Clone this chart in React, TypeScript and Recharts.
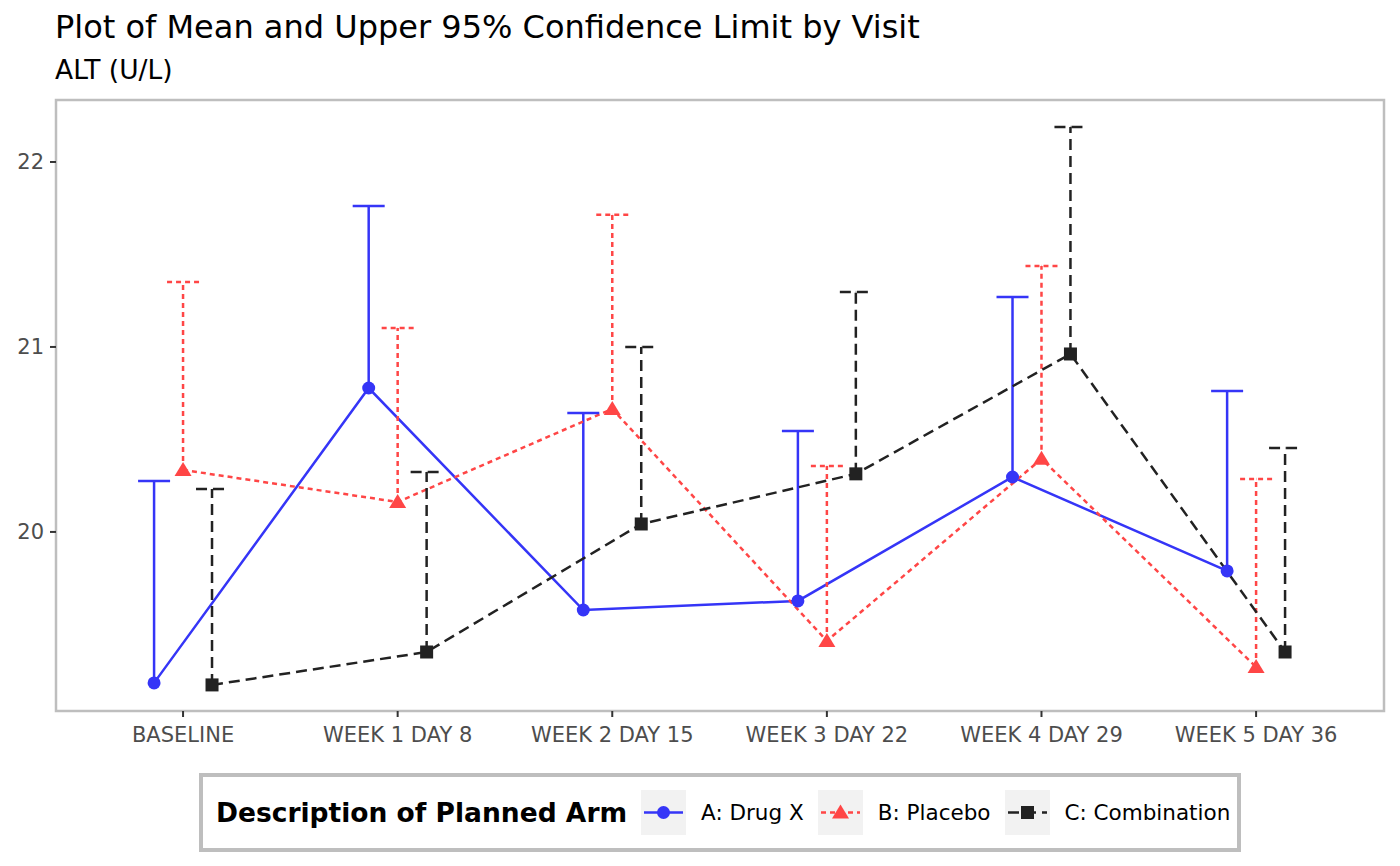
import React from "react";
import { LineChart, Line, XAxis, YAxis, ErrorBar, ReferenceArea } from "recharts";

const visits = [
  "BASELINE",
  "WEEK 1 DAY 8",
  "WEEK 2 DAY 15",
  "WEEK 3 DAY 22",
  "WEEK 4 DAY 29",
  "WEEK 5 DAY 36",
];

// mean and upper 95% CL per arm
const drugXMean = [19.184, 20.778, 19.578, 19.627, 20.297, 19.789];
const drugXUpper = [20.276, 21.762, 20.643, 20.546, 21.27, 20.762];
const placeboMean = [20.335, 20.162, 20.665, 19.411, 20.395, 19.27];
const placeboUpper = [21.351, 21.103, 21.714, 20.357, 21.438, 20.286];
const comboMean = [19.173, 19.351, 20.043, 20.314, 20.962, 19.351];
const comboUpper = [20.232, 20.324, 21.0, 21.297, 22.189, 20.454];

const yTicks = [20, 21, 22];

const X_DOMAIN: [number, number] = [-0.592, 5.596];
const Y_DOMAIN: [number, number] = [19.032, 22.335];
const DODGE = 0.135;
const FONT = "'DejaVu Sans', Verdana, sans-serif";
const LW = 2.5;

type Arm = {
  name: string;
  color: string;
  dash?: string;
  shape: "circle" | "triangle" | "square";
  offset: number;
  mean: number[];
  upper: number[];
};

const arms: Arm[] = [
  { name: "A: Drug X", color: "#3535f7", shape: "circle", offset: -DODGE, mean: drugXMean, upper: drugXUpper },
  { name: "B: Placebo", color: "#ff4646", dash: "5 4", shape: "triangle", offset: 0, mean: placeboMean, upper: placeboUpper },
  { name: "C: Combination", color: "#222222", dash: "11 6", shape: "square", offset: DODGE, mean: comboMean, upper: comboUpper },
];

function Marker({ shape, color, cx, cy }: { shape: Arm["shape"]; color: string; cx: number; cy: number }) {
  if (shape === "circle") return <circle cx={cx} cy={cy} r={6.5} fill={color} />;
  if (shape === "triangle")
    return <polygon points={`${cx},${cy - 8} ${cx + 8.5},${cy + 6} ${cx - 8.5},${cy + 6}`} fill={color} />;
  return <rect x={cx - 6.5} y={cy - 6.5} width={13} height={13} fill={color} />;
}

function LegendKey({ arm }: { arm: Arm }) {
  return (
    <svg width={45} height={45} style={{ background: "#f2f2f2", display: "block", flexShrink: 0 }}>
      <line x1={3} x2={42} y1={22.5} y2={22.5} stroke={arm.color} strokeWidth={LW} strokeDasharray={arm.dash} />
      <Marker shape={arm.shape} color={arm.color} cx={22.5} cy={22.5} />
    </svg>
  );
}

export default function App() {
  const tickStyle = { fontSize: 21, fill: "#4d4d4d", fontFamily: FONT };

  return (
    <div
      style={{
        position: "absolute",
        left: 0,
        top: 0,
        width: 1400,
        height: 866,
        background: "#fff",
        fontFamily: FONT,
      }}
    >
      <div style={{ position: "absolute", left: 55, top: 11, fontSize: 32, lineHeight: 1, color: "#000", whiteSpace: "nowrap" }}>
        Plot of Mean and Upper 95% Confidence Limit by Visit
      </div>
      <div style={{ position: "absolute", left: 55, top: 57, fontSize: 26.5, lineHeight: 1, color: "#000", whiteSpace: "nowrap" }}>
        ALT (U/L)
      </div>

      <div style={{ position: "absolute", left: 0, top: 0 }}>
        <LineChart width={1400} height={866} margin={{ top: 100, right: 16, bottom: 125, left: 0 }}>
          <XAxis
            type="number"
            dataKey="x"
            domain={X_DOMAIN}
            allowDataOverflow
            ticks={visits.map((_, i) => i)}
            tickFormatter={(v: number) => visits[Math.round(v)] ?? ""}
            interval={0}
            axisLine={false}
            tickSize={6}
            tickMargin={10}
            tickLine={{ stroke: "#333", strokeWidth: 2 }}
            tick={tickStyle}
            height={30}
          />
          <YAxis
            type="number"
            domain={Y_DOMAIN}
            allowDataOverflow
            ticks={yTicks}
            axisLine={false}
            tickSize={6}
            tickMargin={6}
            tickLine={{ stroke: "#333", strokeWidth: 2 }}
            tick={tickStyle}
            width={56}
          />
          <ReferenceArea
            x1={X_DOMAIN[0]}
            x2={X_DOMAIN[1]}
            y1={Y_DOMAIN[0]}
            y2={Y_DOMAIN[1]}
            fill="none"
            stroke="#bebebe"
            strokeWidth={2.5}
            ifOverflow="visible"
          />

          {arms.map((arm) => {
            const caps = arm.upper.map((u, i) => ({ x: i + arm.offset, upper: u }));
            return (
              <Line
                key={arm.name + "-cap"}
                data={caps}
                dataKey="upper"
                stroke="none"
                legendType="none"
                activeDot={false}
                isAnimationActive={false}
                dot={(p: any) => (
                  <line
                    key={`cap-${arm.name}-${p.index}`}
                    x1={p.cx - 16}
                    x2={p.cx + 16}
                    y1={p.cy}
                    y2={p.cy}
                    stroke={arm.color}
                    strokeWidth={LW}
                    strokeDasharray={arm.dash}
                  />
                )}
              />
            );
          })}

          {arms.map((arm) => {
            const data = arm.mean.map((m, i) => ({
              x: i + arm.offset,
              mean: m,
              err: [0, arm.upper[i] - m],
            }));
            return (
              <Line
                key={arm.name}
                data={data}
                dataKey="mean"
                name={arm.name}
                stroke={arm.color}
                strokeWidth={LW}
                strokeDasharray={arm.dash}
                activeDot={false}
                isAnimationActive={false}
                dot={(p: any) => (
                  <g key={`pt-${arm.name}-${p.index}`}>
                    <Marker shape={arm.shape} color={arm.color} cx={p.cx} cy={p.cy} />
                  </g>
                )}
              >
                <ErrorBar
                  dataKey="err"
                  direction="y"
                  width={0}
                  stroke={arm.color}
                  strokeWidth={LW}
                  strokeDasharray={arm.dash}
                  isAnimationActive={false}
                />
              </Line>
            );
          })}
        </LineChart>
      </div>

      {/* legend */}
      <div
        style={{
          position: "absolute",
          left: 199,
          top: 773,
          width: 1042,
          height: 79,
          boxSizing: "border-box",
          border: "4px solid #bebebe",
          display: "flex",
          alignItems: "center",
          paddingLeft: 13,
          whiteSpace: "nowrap",
          overflow: "visible",
        }}
      >
        <span style={{ fontWeight: "bold", fontSize: 26.5, marginRight: 14, color: "#000", flexShrink: 0 }}>
          Description of Planned Arm
        </span>
        {arms.map((arm) => (
          <React.Fragment key={arm.name}>
            <LegendKey arm={arm} />
            <span style={{ fontSize: 21.5, marginLeft: 15, marginRight: 14, color: "#000", flexShrink: 0 }}>
              {arm.name}
            </span>
          </React.Fragment>
        ))}
      </div>
    </div>
  );
}
